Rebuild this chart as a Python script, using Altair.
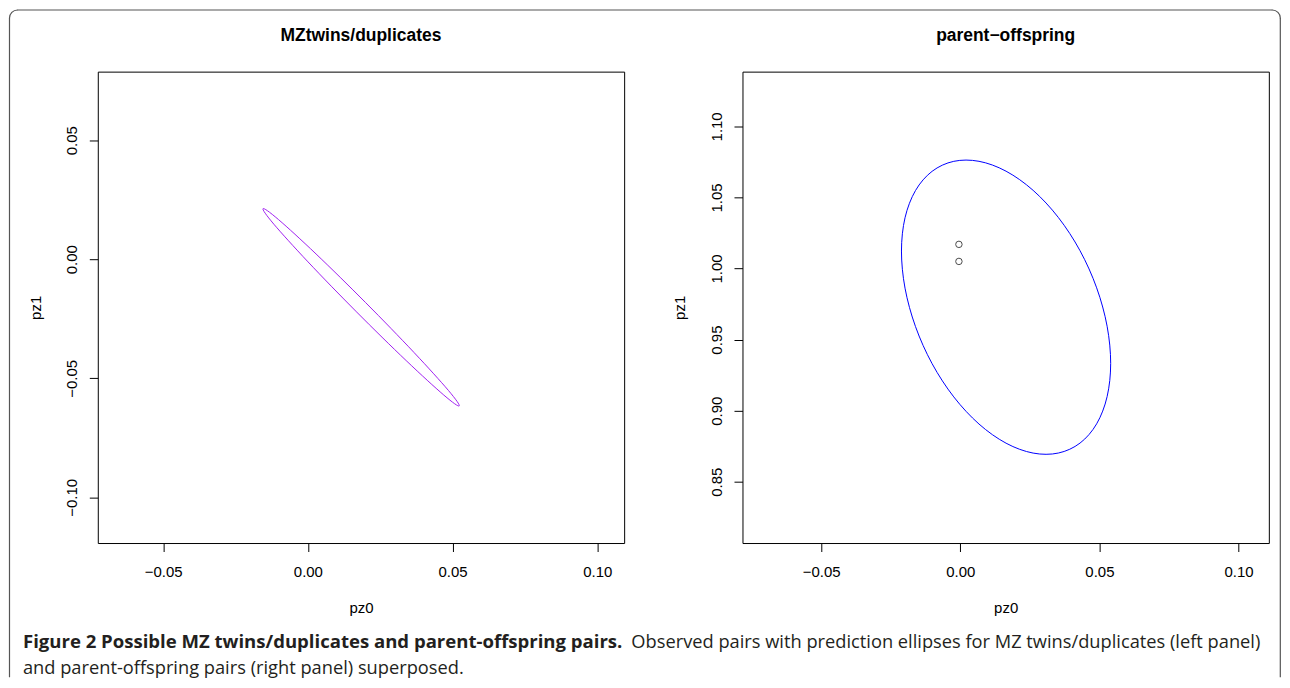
import altair as alt
import pandas as pd

FONT = "Liberation Sans"
CAP_FONT = "Open Sans"

# ---- data ----
# left panel: MZ twins/duplicates prediction ellipse (points around the curve)
mz_x = [0.0523, 0.05155, 0.04856, 0.04349, 0.03673, 0.02871, 0.01999, 0.01117,
        0.00283, -0.00445, -0.01016, -0.01393, -0.0155, -0.01475, -0.01176,
        -0.00669, 0.00007, 0.00809, 0.01681, 0.02563, 0.03397, 0.04125,
        0.04696, 0.05073]
mz_y = [-0.0616, -0.0597, -0.05509, -0.04812, -0.03923, -0.02904, -0.01825,
        -0.0076, 0.00221, 0.01048, 0.01667, 0.02034, 0.02125, 0.01934,
        0.01473, 0.00776, -0.00113, -0.01132, -0.02211, -0.03276, -0.04257,
        -0.05084, -0.05703, -0.0607]

# right panel: parent-offspring prediction ellipse
po_x = [0.05405, 0.05277, 0.04901, 0.04304, 0.03525, 0.02618, 0.01645, 0.00672,
        -0.00235, -0.01014, -0.01611, -0.01987, -0.02115, -0.01987, -0.01611,
        -0.01014, -0.00235, 0.00672, 0.01645, 0.02618, 0.03525, 0.04304,
        0.04901, 0.05277]
po_y = [0.9333, 0.95941, 0.98643, 1.01252, 1.0359, 1.05499, 1.06847, 1.07543,
        1.0754, 1.06838, 1.05485, 1.03571, 1.0123, 0.98619, 0.95917, 0.93308,
        0.9097, 0.89061, 0.87713, 0.87017, 0.8702, 0.87722, 0.89075, 0.90989]

# observed pairs
obs_x = [-0.0005, -0.0005]
obs_y = [1.017, 1.005]

left_xdom = [-0.0726, 0.1093]
left_ydom = [-0.1192, 0.0788]
right_xdom = [-0.0783, 0.1109]
right_ydom = [0.8069, 1.1385]

left_xticks = [-0.05, 0.0, 0.05, 0.10]
left_yticks = [-0.10, -0.05, 0.0, 0.05]
right_xticks = [-0.05, 0.0, 0.05, 0.10]
right_yticks = [0.85, 0.90, 0.95, 1.00, 1.05, 1.10]

titles = ["MZtwins/duplicates", "parent\u2212offspring"]
x_title = "pz0"
y_title = "pz1"

cap_bold = "Figure 2 Possible MZ twins/duplicates and parent-offspring pairs."
cap_rest = "Observed pairs with prediction ellipses for MZ twins/duplicates (left panel)"
cap_line2 = "and parent-offspring pairs (right panel) superposed."

W = 527.6
H = 472.5

mz = pd.DataFrame({"x": mz_x, "y": mz_y, "i": list(range(len(mz_x)))})
po = pd.DataFrame({"x": po_x, "y": po_y, "i": list(range(len(po_x)))})
obs = pd.DataFrame({"x": obs_x, "y": obs_y})
one = pd.DataFrame({"k": [0]})


def axes(xdom, ydom, xt, yt):
    x = alt.X("x:Q",
              scale=alt.Scale(domain=xdom, nice=False, zero=False),
              axis=alt.Axis(values=xt, format=".2f", title=x_title,
                            labelBaseline="middle", labelPadding=20.5,
                            titleX=W / 2, titleY=64.5, titleBaseline="middle",
                            titleAlign="center"))
    y = alt.Y("y:Q",
              scale=alt.Scale(domain=ydom, nice=False, zero=False),
              axis=alt.Axis(values=yt, format=".2f", title=y_title,
                            labelAngle=270, labelAlign="center",
                            labelBaseline="middle", labelPadding=17.5,
                            titleAngle=270, titleX=-62.7, titleY=H / 2,
                            titleBaseline="middle", titleAlign="center"))
    return x, y


def title_mark(t):
    df = pd.DataFrame({"t": [t]})
    return alt.Chart(df).mark_text(
        font=FONT, fontSize=17.5, fontWeight="bold", color="black",
        align="center", baseline="alphabetic"
    ).encode(x=alt.value(W / 2), y=alt.value(-31), text="t:N")


# ---- left panel ----
lx, ly = axes(left_xdom, left_ydom, left_xticks, left_yticks)
left_line = alt.Chart(mz).mark_line(
    color="#A020F0", strokeWidth=1, interpolate="cardinal-closed"
).encode(x=lx, y=ly, order=alt.Order("i:Q"))

BORDER = "#555555"
SW = 1.2
L, R, T, B, RAD = -88.5, 1185.3, -61.8, 607, 8
border_left = alt.Chart(one).mark_rule(color=BORDER, strokeWidth=SW).encode(
    x=alt.value(L), y=alt.value(T + RAD), y2=alt.value(B))
border_right = alt.Chart(one).mark_rule(color=BORDER, strokeWidth=SW).encode(
    x=alt.value(R), y=alt.value(T + RAD), y2=alt.value(B))
border_top = alt.Chart(one).mark_rule(color=BORDER, strokeWidth=SW).encode(
    x=alt.value(L + RAD), x2=alt.value(R - RAD), y=alt.value(T))
corner_l = alt.Chart(one).mark_arc(
    radius=RAD, radius2=RAD, theta=4.712389, theta2=6.283185,
    filled=False, color=BORDER, strokeWidth=SW, strokeJoin="round"
).encode(x=alt.value(L + RAD), y=alt.value(T + RAD))
corner_r = alt.Chart(one).mark_arc(
    radius=RAD, radius2=RAD, theta=0, theta2=1.570796,
    filled=False, color=BORDER, strokeWidth=SW, strokeJoin="round"
).encode(x=alt.value(R - RAD), y=alt.value(T + RAD))

cap = pd.DataFrame({"bold": [cap_bold], "rest": [cap_rest], "l2": [cap_line2]})
cap1 = alt.Chart(cap).mark_text(
    font=CAP_FONT, fontSize=18.6, fontWeight="bold", color="#231f20",
    align="left", baseline="alphabetic"
).encode(x=alt.value(-75.0), y=alt.value(577.5), text="bold:N")
cap2 = alt.Chart(cap).mark_text(
    font=CAP_FONT, fontSize=18.3, color="#231f20",
    align="right", baseline="alphabetic"
).encode(x=alt.value(1165.3), y=alt.value(577.5), text="rest:N")
cap3 = alt.Chart(cap).mark_text(
    font=CAP_FONT, fontSize=18.3, color="#231f20",
    align="left", baseline="alphabetic"
).encode(x=alt.value(-75.0), y=alt.value(604), text="l2:N")

left = alt.layer(
    left_line, title_mark(titles[0]), border_left, border_right, border_top,
    corner_l, corner_r, cap1, cap2, cap3
).properties(width=W, height=H)

# ---- right panel ----
rx, ry = axes(right_xdom, right_ydom, right_xticks, right_yticks)
right_line = alt.Chart(po).mark_line(
    color="#0000FF", strokeWidth=1, interpolate="cardinal-closed"
).encode(x=rx, y=ry, order=alt.Order("i:Q"))
right_pts = alt.Chart(obs).mark_point(
    shape="circle", filled=False, color="black", size=42, strokeWidth=1
).encode(x="x:Q", y="y:Q")

right = alt.layer(right_line, right_pts, title_mark(titles[1])).properties(
    width=W, height=H)

chart = alt.hconcat(left, right, spacing=118.2, bounds="flush").properties(
    padding=0, background="white"
).configure_view(
    stroke="black", strokeWidth=1
).configure_axis(
    domain=False, grid=False, ticks=True, tickSize=8.5, tickColor="black",
    tickWidth=1, labelFont=FONT, labelFontSize=15, labelColor="black",
    labelFlush=False, labelOverlap=False, titleFont=FONT, titleFontSize=15,
    titleFontWeight="normal", titleColor="black"
)

chart.save("out.html", embed_options={"renderer": "svg", "actions": False})
